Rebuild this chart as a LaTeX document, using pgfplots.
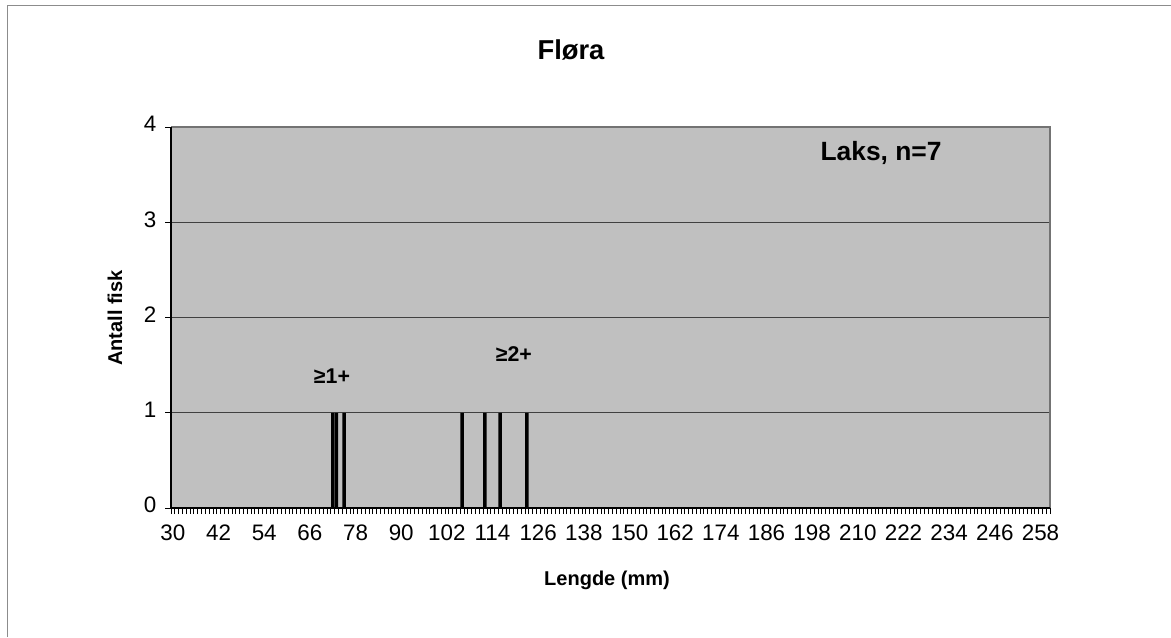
\documentclass[border=0pt]{standalone}
\usepackage{fontspec}
\setmainfont{Liberation Sans}
\usepackage{pgfplots}
\pgfplotsset{compat=1.18}
\definecolor{plotbg}{HTML}{C0C0C0}
\begin{document}
\begin{tikzpicture}
\useasboundingbox (0,0) rectangle (878.25pt,477.75pt);
\draw[gray!90, line width=0.8pt] (5.4pt,0) -- (5.4pt,473.6pt) -- (878.25pt,473.6pt);
\begin{axis}[
  at={(128.25pt,96.75pt)}, anchor=south west,
  scale only axis, width=659.25pt, height=285.75pt,
  xmin=29.5, xmax=260.5, ymin=0, ymax=4,
  xtick={30,42,...,258},
  minor xtick={29.5,30.5,...,260.5},
  ytick={0,1,2,3,4},
  axis background/.style={fill=plotbg},
  axis line style={draw=none},
  xtick pos=bottom, ytick pos=left,
  tick align=outside,
  major x tick style={draw=none},
  minor x tick style={black, line width=0.5pt},
  minor tick length=4.5pt,
  major y tick style={black, line width=0.6pt},
  major tick length=4.5pt,
  ymajorgrids,
  major grid style={black!75, line width=0.6pt},
  /pgf/number format/assume math mode=true,
  typeset ticklabels with strut,
  ticklabel style={font=\fontsize{16.8pt}{18pt}\selectfont},
  xticklabel style={yshift=-4pt},
  yticklabel style={xshift=-3pt},
  clip=false,
]
\addplot[ybar, bar width=0.9, fill=black, draw=none] coordinates {
 (72,1) (73,1) (75,1) (106,1) (112,1) (116,1) (123,1)
};
\draw[black!55, line width=1.5pt] (rel axis cs:0,1) -- (rel axis cs:1,1) -- (rel axis cs:1,0);
\draw[black, line width=0.9pt] (rel axis cs:0,1) -- (rel axis cs:0,0) -- (rel axis cs:1,0);
\node[font=\bfseries\fontsize{19.8pt}{22pt}\selectfont] at (axis cs:216.1,3.73) {Laks, n=7};
\node[font=\bfseries\fontsize{16pt}{18pt}\selectfont] at (axis cs:71.8,1.386) {≥1+};
\node[font=\bfseries\fontsize{16pt}{18pt}\selectfont] at (axis cs:119.6,1.617) {≥2+};
\end{axis}
\node[font=\bfseries\fontsize{20.5pt}{22pt}\selectfont] at (428.25pt,440.25pt) {Fløra};
\node[font=\bfseries\fontsize{15pt}{17pt}\selectfont] at (455.25pt,42.75pt) {Lengde (mm)};
\node[font=\bfseries\fontsize{15pt}{17pt}\selectfont, rotate=90] at (86.25pt,239.25pt) {Antall fisk};
\end{tikzpicture}
\end{document}
